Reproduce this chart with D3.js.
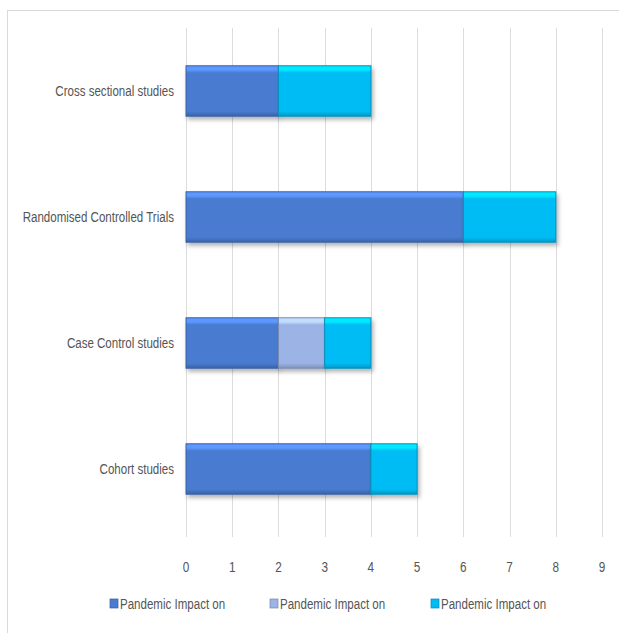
<!DOCTYPE html>
<html>
<head>
<meta charset="utf-8">
<script src="https://cdn.jsdelivr.net/npm/d3@7"></script>
<style>
  body { margin: 0; background: #fff; }
  text { font-family: "Liberation Sans", Arial, sans-serif; fill: #555; }
</style>
</head>
<body>
<div id="chart"></div>
<script>
// categories from top to bottom
var categories = ['Cross sectional studies', 'Randomised Controlled Trials', 'Case Control studies', 'Cohort studies'];
var seriesNames = ['Pandemic Impact on', 'Pandemic Impact on', 'Pandemic Impact on'];
var series1 = [2, 6, 2, 4];
var series2 = [0, 0, 1, 0];
var series3 = [2, 2, 1, 1];
var xTicks = [0, 1, 2, 3, 4, 5, 6, 7, 8, 9];
var colors = ['#4a7bd0', '#9cb3e6', '#00bcf4'];

var W = 619, H = 633;
var margin = { top: 28, right: 17, bottom: 101, left: 186 };
var width = W - margin.left - margin.right;
var height = H - margin.top - margin.bottom;
var SX = 0.76; // horizontal squeeze to mimic the narrow font

var svg = d3.select('#chart').append('svg')
  .attr('width', W)
  .attr('height', H);

// outer chart border
svg.append('rect')
  .attr('x', 7.5).attr('y', 10.5)
  .attr('width', W + 10).attr('height', H + 10)
  .attr('fill', 'none')
  .attr('stroke', '#d9d9d9');

var defs = svg.append('defs');
var f = defs.append('filter').attr('id', 'shadow')
  .attr('x', '-10%').attr('y', '-10%').attr('width', '130%').attr('height', '140%');
f.append('feDropShadow').attr('dx', 2).attr('dy', 3).attr('stdDeviation', 2)
  .attr('flood-color', '#000').attr('flood-opacity', 0.3);

colors.forEach(function (c, i) {
  var gr = defs.append('linearGradient').attr('id', 'bev' + i)
    .attr('x1', 0).attr('y1', 0).attr('x2', 0).attr('y2', 1);
  var light = d3.color(c).brighter(0.6), dark = d3.color(c).darker(0.6);
  gr.append('stop').attr('offset', '0%').attr('stop-color', light);
  gr.append('stop').attr('offset', '8%').attr('stop-color', light);
  gr.append('stop').attr('offset', '14%').attr('stop-color', c);
  gr.append('stop').attr('offset', '90%').attr('stop-color', c);
  gr.append('stop').attr('offset', '100%').attr('stop-color', dark);
});

var g = svg.append('g')
  .attr('transform', 'translate(' + margin.left + ',' + margin.top + ')');

var x = d3.scaleLinear().domain([0, 9]).range([0, width]);
var y = d3.scaleBand().domain(categories).range([0, height]).paddingInner(0.6).paddingOuter(0.3);

// vertical gridlines
g.selectAll('.grid')
  .data(xTicks)
  .enter().append('line')
  .attr('x1', function (d) { return Math.round(x(d)) + 0.5; })
  .attr('x2', function (d) { return Math.round(x(d)) + 0.5; })
  .attr('y1', 0)
  .attr('y2', height + 5)
  .attr('stroke', '#dcdcdc');

// x tick labels
g.selectAll('.xlab')
  .data(xTicks)
  .enter().append('text')
  .attr('transform', function (d) { return 'translate(' + x(d) + ',' + (height + 40) + ') scale(' + SX + ',1)'; })
  .attr('text-anchor', 'middle')
  .style('font-size', '15.5px')
  .text(function (d) { return d; });

// category labels
g.selectAll('.ylab')
  .data(categories)
  .enter().append('text')
  .attr('transform', function (d) { return 'translate(-12,' + (y(d) + y.bandwidth() / 2 + 5) + ') scale(' + SX + ',1)'; })
  .attr('text-anchor', 'end')
  .style('font-size', '15.2px')
  .text(function (d) { return d; });

// stacked bars
var allSeries = [series1, series2, series3];
categories.forEach(function (cat, ci) {
  var start = 0;
  allSeries.forEach(function (s, si) {
    var v = s[ci];
    if (v > 0) {
      g.append('rect')
        .attr('x', x(start))
        .attr('y', y(cat))
        .attr('width', x(start + v) - x(start))
        .attr('height', y.bandwidth())
        .attr('fill', 'url(#bev' + si + ')')
        .attr('stroke', d3.color(colors[si]).darker(0.7))
        .attr('stroke-width', 1)
        .attr('filter', 'url(#shadow)');
    }
    start += v;
  });
});

// legend
var legendX = [110, 270, 431];
var leg = svg.selectAll('.legend')
  .data(seriesNames)
  .enter().append('g')
  .attr('transform', function (d, i) { return 'translate(' + legendX[i] + ',604)'; });
leg.append('rect')
  .attr('x', 0).attr('y', -5)
  .attr('width', 8).attr('height', 9)
  .attr('fill', function (d, i) { return colors[i]; })
  .attr('stroke', function (d, i) { return d3.color(colors[i]).darker(0.8); })
  .attr('stroke-width', 0.7);
leg.append('text')
  .attr('transform', 'translate(10,5) scale(' + SX + ',1)')
  .style('font-size', '15.2px')
  .text(function (d) { return d; });
</script>
</body>
</html>
